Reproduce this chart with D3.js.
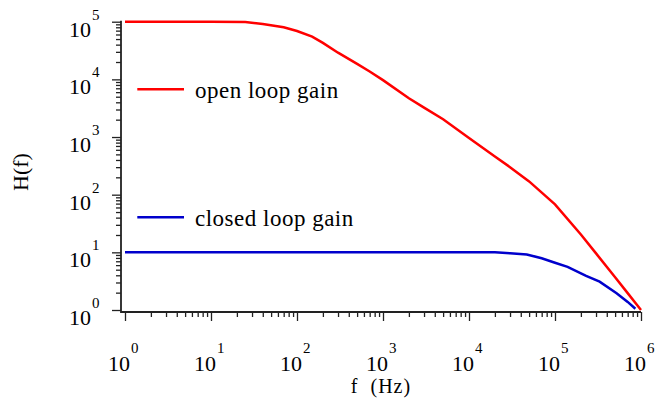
<!DOCTYPE html>
<html>
<head>
<meta charset="utf-8">
<script src="https://cdn.jsdelivr.net/npm/d3@7"></script>
<style>
  body { margin: 0; background: #fff; }
  svg { display: block; font-family: "Liberation Serif", "DejaVu Serif", serif; }
</style>
</head>
<body>
<svg id="chart" width="666" height="398"></svg>
<script>
// open loop gain
const openFreqHz = [1, 10, 25, 40, 70, 100, 150, 200, 300, 500, 700, 1e3, 2e3, 3e3, 5e3, 1e4, 2e4, 3e4, 5e4, 1e5, 2e5, 3e5, 5e5, 7e5, 9e5, 1e6];
const openGain = [1e5, 1e5, 99000, 91000, 80000, 69000, 55000, 43000, 29000, 18600, 13700, 9700, 4700, 3230, 2030, 960, 460, 300, 170, 68, 20.4, 9.6, 3.7, 1.96, 1.22, 1.0];

// closed loop gain
const closedFreqHz = [1, 1e4, 2e4, 3e4, 4.7e4, 7e4, 1e5, 1.4e5, 2.3e5, 3.3e5, 5.2e5, 7e5, 8.6e5];
const closedGain = [10, 10, 10, 9.6, 9.2, 7.9, 6.6, 5.6, 3.9, 3.1, 1.95, 1.38, 1.05];

// decades shown on each axis
const xDecades = [0, 1, 2, 3, 4, 5, 6];
const yDecades = [0, 1, 2, 3, 4, 5];

const legendItems = [
  { label: 'open loop gain', color: '#ff0000' },
  { label: 'closed loop gain', color: '#0000cc' }
];

const svg = d3.select('#chart');

const x = d3.scaleLog().domain([1, 1e6]).range([125, 641]);
const y = d3.scaleLog().domain([1, 1e5]).range([310, 21.7]);

const axisX = x.range()[0] - 4;   // y axis line sits a bit left of 10^0
const axisY = y.range()[0] + 2;   // x axis line sits a bit below 10^0
const axisColor = '#222';

const isMajor = v => Math.abs(Math.log10(v) - Math.round(Math.log10(v))) < 1e-9;

// y axis ticks
const gy = svg.append('g')
  .attr('transform', `translate(${axisX},0)`)
  .call(d3.axisLeft(y).ticks(10).tickFormat('').tickSizeOuter(0));
gy.select('.domain').remove();
gy.selectAll('.tick line')
  .attr('x2', d => isMajor(d) ? -9 : -5)
  .attr('stroke', axisColor)
  .attr('stroke-width', 1.3);

// x axis ticks
const gx = svg.append('g')
  .attr('transform', `translate(0,${axisY})`)
  .call(d3.axisBottom(x).ticks(10).tickFormat('').tickSizeOuter(0));
gx.select('.domain').remove();
gx.selectAll('.tick line')
  .attr('y2', d => isMajor(d) ? 9 : 5)
  .attr('stroke', axisColor)
  .attr('stroke-width', 1.3);

// axis lines
svg.append('path')
  .attr('d', `M${axisX},${y.range()[1] - 1}V${axisY}H${x.range()[1]}`)
  .attr('fill', 'none')
  .attr('stroke', axisColor)
  .attr('stroke-width', 1.8);

// y tick labels: 10 with superscript exponent
const yLab = svg.append('g').selectAll('g')
  .data(yDecades)
  .join('g')
  .attr('transform', d => `translate(0,${y(Math.pow(10, d))})`);
yLab.append('text')
  .attr('x', 91).attr('y', 15)
  .attr('text-anchor', 'end')
  .attr('font-size', 22)
  .text('10');
yLab.append('text')
  .attr('x', 92).attr('y', -2)
  .attr('font-size', 15)
  .text(d => d);

// x tick labels
const xLab = svg.append('g').selectAll('g')
  .data(xDecades)
  .join('g')
  .attr('transform', d => `translate(${x(Math.pow(10, d))},0)`);
xLab.append('text')
  .attr('x', 5).attr('y', 370.8)
  .attr('text-anchor', 'end')
  .attr('font-size', 22)
  .text('10');
xLab.append('text')
  .attr('x', 6).attr('y', 352.5)
  .attr('font-size', 15)
  .text(d => d);

// axis titles
svg.append('text')
  .attr('x', (axisX + x.range()[1]) / 2)
  .attr('y', 393.4)
  .attr('text-anchor', 'middle')
  .attr('font-size', 20)
  .attr('letter-spacing', 1)
  .style('white-space', 'pre')
  .text('f  (Hz)');

svg.append('text')
  .attr('transform', 'translate(28,172) rotate(-90)')
  .attr('text-anchor', 'middle')
  .attr('font-size', 22)
  .text('H(f)');

// curves
const line = d3.line()
  .x(d => x(d[0]))
  .y(d => y(d[1]));

svg.append('path')
  .datum(d3.zip(openFreqHz, openGain))
  .attr('d', line)
  .attr('fill', 'none')
  .attr('stroke', legendItems[0].color)
  .attr('stroke-width', 2.5);

svg.append('path')
  .datum(d3.zip(closedFreqHz, closedGain))
  .attr('d', line)
  .attr('fill', 'none')
  .attr('stroke', legendItems[1].color)
  .attr('stroke-width', 2.5);

// legend
const legend = svg.append('g').selectAll('g')
  .data(legendItems)
  .join('g')
  .attr('transform', (d, i) => `translate(0,${i === 0 ? 89.3 : 217.3})`);
legend.append('line')
  .attr('x1', 137.3).attr('x2', 184)
  .attr('stroke', d => d.color)
  .attr('stroke-width', 2.5);
legend.append('text')
  .attr('x', 195).attr('y', 8.5)
  .attr('font-size', 23)
  .attr('letter-spacing', 0.5)
  .text(d => d.label);
</script>
</body>
</html>
